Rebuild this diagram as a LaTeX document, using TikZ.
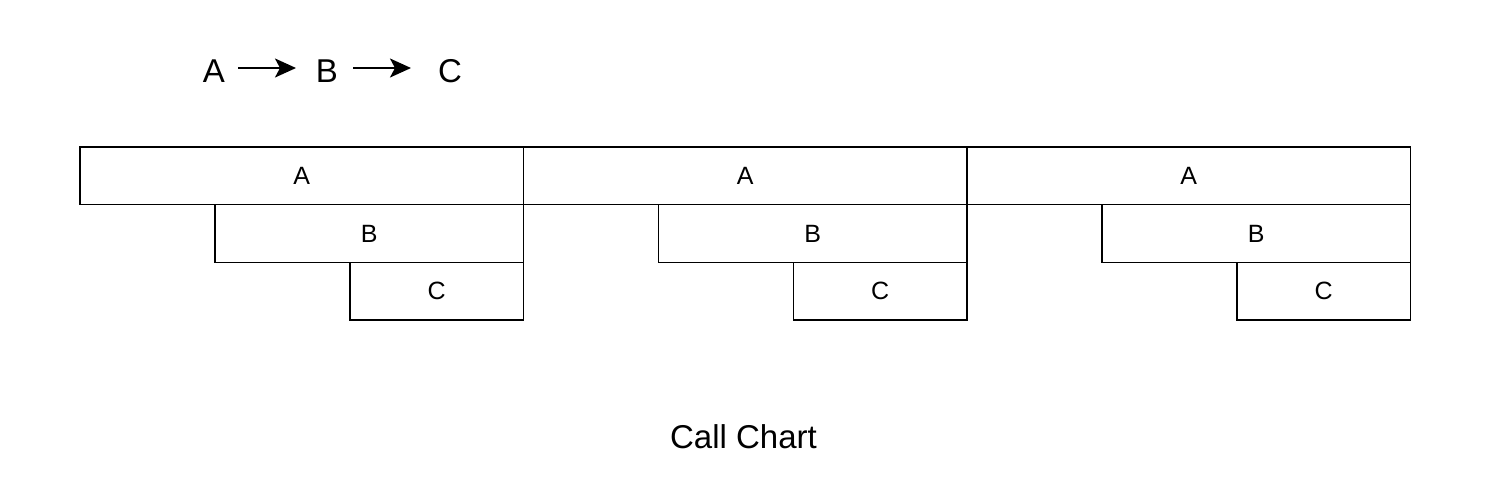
\documentclass[tikz,border=0pt]{standalone}
\usepackage{fontspec}
\setmainfont{Liberation Sans}
\usetikzlibrary{arrows.meta}
\begin{document}
\begin{tikzpicture}[x=1pt,y=-1pt,
  box/.style={draw=black, line width=1.8pt, rectangle, inner sep=0pt, anchor=north west, font=\fontsize{25}{29}\selectfont, fill=white},
  big/.style={font=\fontsize{33}{38}\selectfont, inner sep=0pt},
  flow/.style={line width=2pt, -{Stealth[length=21pt, width=19pt, inset=5pt]}}]
\useasboundingbox (0,0) rectangle (1488,498);
% legend
\node[big] (la) at (214,71) {A};
\node[big] (lb) at (327,71) {B};
\node[big] (lc) at (450,71) {C};
\coordinate (a1) at (238,68); \coordinate (a2) at (296,68);
\coordinate (b1) at (353,68); \coordinate (b2) at (411,68);
\draw[flow] (a1) -- (a2);
\draw[flow] (b1) -- (b2);
% call chart
\foreach \i/\x in {1/79, 2/522.5, 3/966} {
  \node[box, minimum width=443.5pt, minimum height=57.5pt] (A\i) at (\x,146) {A};
  \node[box, minimum width={443.5pt-135pt}, minimum height=58pt] (B\i) at ({\x+135},203.5) {B};
  \node[box, minimum width={443.5pt-270pt}, minimum height=57.5pt] (C\i) at ({\x+270},261.5) {C};
}
\node[big] (title) at (743.5,437) {Call Chart};
\end{tikzpicture}
\end{document}
